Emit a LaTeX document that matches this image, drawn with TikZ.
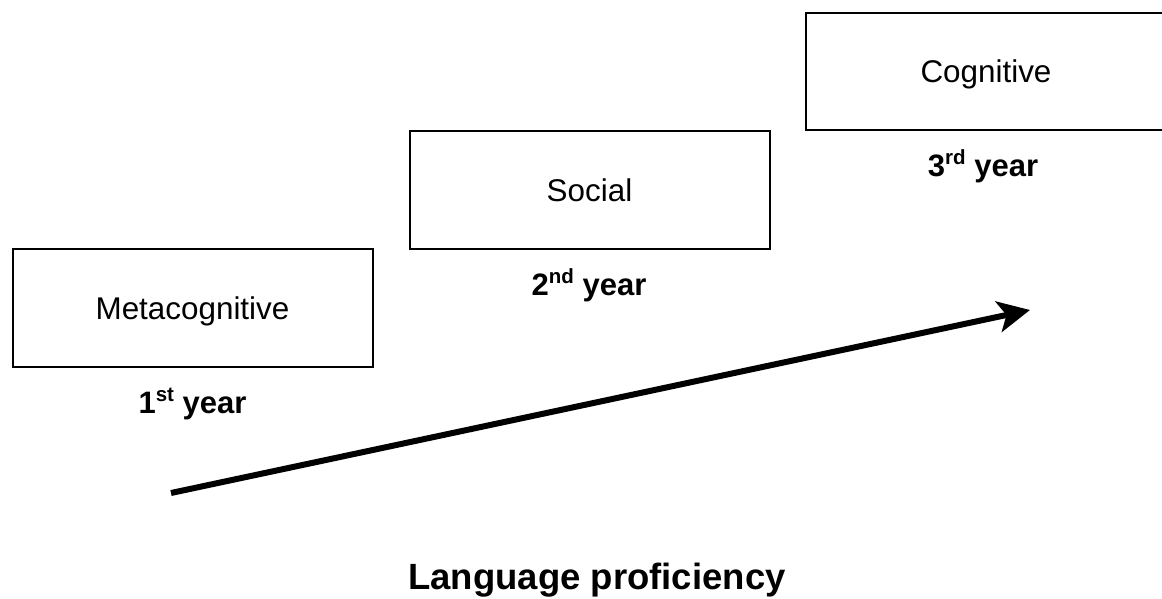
\documentclass[tikz,border=0pt]{standalone}
\usepackage{fontspec}
\setmainfont{Liberation Sans}
\usetikzlibrary{arrows.meta}

\newcommand{\yr}[2]{#1\raisebox{0.36em}{\fontsize{20.5}{22}\selectfont #2} year}

\tikzset{
  stagebox/.style={draw=black, line width=2pt, rectangle, inner sep=0pt,
    minimum width=360pt, minimum height=117.5pt,
    text height=22.5pt, text depth=0pt,
    font=\fontsize{31.4}{36}\selectfont},
  yearlabel/.style={anchor=base, inner sep=0pt,
    font=\fontsize{31}{36}\selectfont\bfseries},
  growth/.style={line width=6pt,
    -{Stealth[length=32pt, width=31pt, inset=8pt]}}
}

\begin{document}
\begin{tikzpicture}[x=1pt, y=-1pt]
  \useasboundingbox (0,0) rectangle (1162,599);
  \clip (0,0) rectangle (1162,599);

  % three stages of strategy use
  \node[stagebox] (meta) at (192.5,308) {Metacognitive};
  \node[stagebox] (soc)  at (589.5,190) {Social};
  \node[stagebox] (cog)  at (986,71.5)  {Cognitive};

  % year labels under each stage
  \node[yearlabel] (y1) at (192.5,413) {\yr{1}{st}};
  \node[yearlabel] (y2) at (589,295)   {\yr{2}{nd}};
  \node[yearlabel] (y3) at (983,176)   {\yr{3}{rd}};

  % rising proficiency arrow
  \coordinate (start) at (171,493);
  \coordinate (tip)   at (1030,310);
  \draw[growth] (start) -- (tip);

  \node[anchor=base, inner sep=0pt, font=\fontsize{36.5}{40}\selectfont\bfseries]
    (axis) at (597,589) {Language proficiency};
\end{tikzpicture}
\end{document}
